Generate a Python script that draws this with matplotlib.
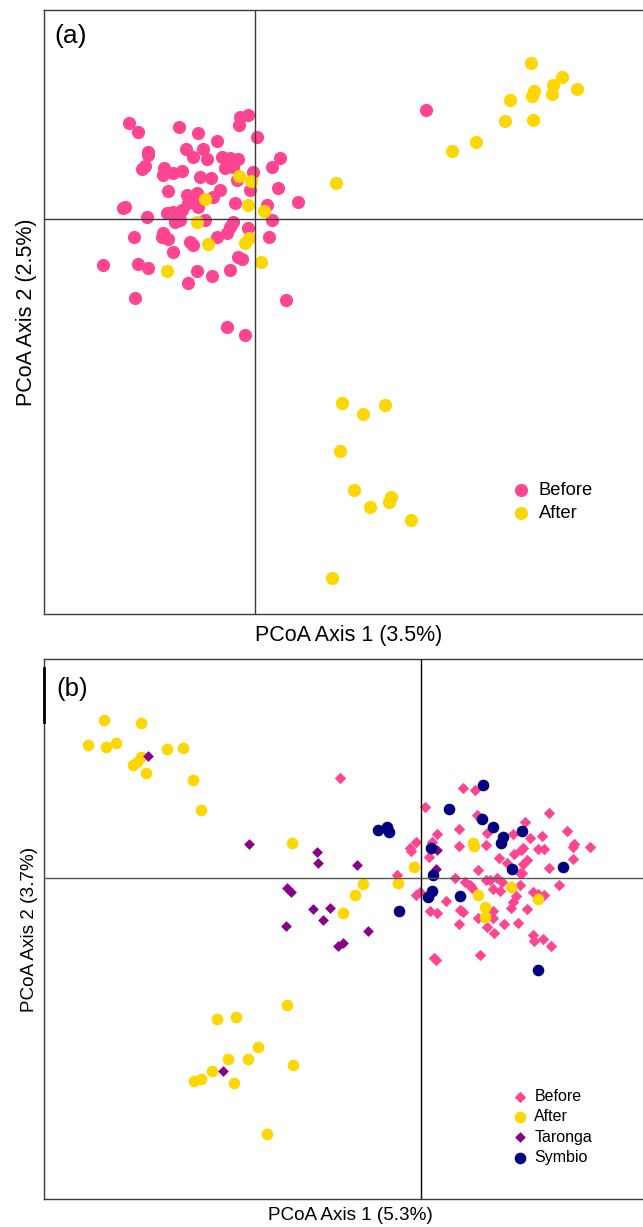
import matplotlib
matplotlib.use("Agg")
import matplotlib.pyplot as plt
import numpy as np

plt.rcParams['font.family'] = ['Liberation Sans', 'DejaVu Sans']

# ---------------- Panel (a) data (PCoA scores, arbitrary units) ----------------
a_before_x = [-126, -117, -76, -57, -38, -69, -52, -107, -107, -62, -48, -33, -25, -17,
              -113, -110, -91, -92, -82, -73, -30, -22, -2, 17, 25, -15, -7, -16, 2,
              -55, -44, -18, -5, 23, -87, -68, -58, -42, -35, 43, -132, -130, -88, -82,
              -73, -67, -62, -57, -20, 12, -108, -80, -75, -50, -22, -25, -28, -38, -7,
              17, -121, -92, -87, -93, -65, -62, -82, -152, -117, -107, -58, -43, -25,
              -17, -13, 14, -67, -120, 31, -28, -10, 171]
a_before_y = [96, 87, 92, 86, 78, 70, 70, 67, 64, 62, 60, 62, 61, 60,
              50, 53, 51, 44, 46, 48, 51, 52, 47, 52, 61, 102, 104, 94, 82,
              42, 41, 39, 29, 31, 28, 24, 26, 22, 29, 17, 11, 12, 6, 7,
              9, 16, 19, 12, 16, 14, 2, -3, -1, -1, -3, -8, -14, -18, -9,
              -1, -18, -14, -20, -18, -23, -26, -33, -46, -45, -49, -52, -57, -51,
              -38, -40, -18, -64, -79, -81, -108, -116, 109]

a_after_x = [-16, -4, -50, -7, 9, -58, -47, -10, -6, 6, -88,
             276, 307, 298, 279, 277, 297, 322, 255, 250, 278, 221, 197, 81,
             87, 108, 130, 85, 99, 115, 134, 136, 156, 77]
a_after_y = [43, 38, 20, 14, 8, -3, -25, -24, -19, -43, -52,
             156, 142, 134, 128, 123, 125, 130, 119, 98, 99, 77, 68, 36,
             -184, -195, -186, -232, -271, -288, -283, -278, -301, -359]

# ---------------- Panel (b) data ----------------
b_before_x = [-81, 42, 54, 4, 56, 59, 128, 104, 146, 16, 38, 66, 92, 121, 109, 169, 153,
              152, 117, 123, 102, 100, 65, 38, -5, -11, -10, 11, 8, 78, 93, 106, 102, 86,
              152, 128, 99, -24, 57, 34, 44, 49, 51, 65, 69, 76, 81, 99, 101, 72, 79,
              138, 112, 117, 123, -5, -1, 25, 95, 92, 90, 106, 9, 16, 39, 42, 57, 72,
              72, 38, 66, 73, 83, 97, 112, 122, 130, 113, 13, 15, 59]
b_before_y = [100, 90, 88, 71, 63, 60, 65, 56, 47, 44, 49, 45, 44, 42, 40, 31, 34,
              31, 29, 29, 30, 28, 33, 32, 36, 30, 27, 36, 21, 20, 24, 18, 14, 15,
              19, 10, 5, 3, 8, 0, -4, -7, -10, -2, -2, 0, -4, -7, 5, -11, -13,
              -7, -14, -16, -17, -17, -14, -23, -18, -24, -30, -31, -33, -35, -32, -34,
              -40, -33, -40, -46, -49, -55, -46, -45, -57, -61, -68, -63, -80, -82, -77]

b_after_x = [-317, -280, -333, -315, -305, -254, -238, -288, -284, -280, -275, -228, -220, -129,
             52, 53, -7, -58, -23, 90, 117, -66, -78, 57, 64, 64,
             -134, -204, -185, -163, -193, -173, -209, -128, -227, -220, -187, -154]
b_after_y = [158, 155, 133, 131, 135, 129, 130, 113, 116, 121, 105, 98, 68, 35,
             35, 32, 11, -6, -5, -9, -21, -17, -35, -17, -29, -39,
             -127, -141, -139, -169, -181, -181, -193, -187, -203, -201, -205, -256]

b_taronga_x = [-273, -172, -104, -103, -134, -130, -108, -91, -98, -135, -64, -53, -83, -78, 16, 15, -198]
b_taronga_y = [122, 34, 26, 15, -10, -14, -31, -30, -42, -48, 13, -53, -68, -65, 28, 9, -193]

b_symbio_x = [62, 28, 61, 72, 101, -43, -34, -32, 82, 80, 10, 91, 142, 12, 11, 7, 39, -22, 117]
b_symbio_y = [93, 69, 59, 51, 47, 48, 51, 46, 41, 35, 30, 9, 11, 3, -13, -19, -18, -33, -92]

PINK = '#FF4592'
GOLD = '#FFD700'
PURPLE = '#8B008B'
NAVY = '#000080'
LINEC = '#3a3a3a'

fig = plt.figure(figsize=(6.43, 12.27), dpi=100)

# ---------- panel (a) ----------
axa = fig.add_axes([44/643, 1-614/1227, 1-44/643, (614-10)/1227])
axa.scatter(a_before_x, a_before_y, s=90, c=PINK, marker='o', linewidths=0, label='Before', zorder=2)
axa.scatter(a_after_x, a_after_y, s=90, c=GOLD, marker='o', linewidths=0, label='After', zorder=2.5)
axa.axhline(0, color=LINEC, lw=1.0, zorder=3)
axa.axvline(0, color=LINEC, lw=1.0, zorder=3)
axa.set_xlim(44-255, 643-255)
axa.set_ylim(219-614, 219-10)
axa.set_xticks([]); axa.set_yticks([])
axa.spines['right'].set_visible(False)
for sp in ['left', 'top', 'bottom']:
    axa.spines[sp].set_color(LINEC)
    axa.spines[sp].set_linewidth(1.0)
axa.set_xlabel('PCoA Axis 1 (3.5%)', fontsize=15.5, labelpad=8)
axa.xaxis.label.set_x(0.508)
axa.set_ylabel('PCoA Axis 2 (2.5%)', fontsize=15.5, labelpad=5)
axa.text(0.017, 0.977, '(a)', transform=axa.transAxes, fontsize=19, va='top', ha='left')
axa.legend(loc='upper left', bbox_to_anchor=(468/599, (614-482)/604), frameon=False,
           fontsize=13.2, handlelength=1.0, handletextpad=0.45, labelspacing=0.3,
           borderpad=0, borderaxespad=0, scatterpoints=1)

# ---------- panel (b) ----------
axb = fig.add_axes([44/643, 1-1199/1227, 1-44/643, (1199-659)/1227])
axb.scatter(b_before_x, b_before_y, s=34, c=PINK, marker='D', linewidths=0, label='Before', zorder=2)
axb.scatter(b_after_x, b_after_y, s=70, c=GOLD, marker='o', linewidths=0, label='After', zorder=2.2)
axb.scatter(b_taronga_x, b_taronga_y, s=30, c=PURPLE, marker='D', linewidths=0, label='Taronga', zorder=2.4)
axb.scatter(b_symbio_x, b_symbio_y, s=70, c=NAVY, marker='o', linewidths=0, label='Symbio', zorder=2.6)
axb.axhline(0, color='#555555', lw=1.0, zorder=3)
axb.axvline(0, color='black', lw=1.0, zorder=3)
axb.set_xlim(44-421, 643-421)
axb.set_ylim(878-1199, 878-659)
axb.set_xticks([]); axb.set_yticks([])
axb.spines['right'].set_visible(False)
for sp in ['left', 'top', 'bottom']:
    axb.spines[sp].set_color(LINEC)
    axb.spines[sp].set_linewidth(1.0)
# thicker segment on the left frame near the panel letter
axb.axvline(-377, ymin=(1199-722)/540, ymax=(1199-668)/540, color='black', lw=2.0, zorder=4, clip_on=False)
axb.set_xlabel('PCoA Axis 1 (5.3%)', fontsize=13.6, labelpad=6)
axb.xaxis.label.set_x(0.511)
axb.set_ylabel('PCoA Axis 2 (3.7%)', fontsize=13.6, labelpad=4)
axb.text(0.02, 0.967, '(b)', transform=axb.transAxes, fontsize=18.5, va='top', ha='left')
axb.legend(loc='upper left', bbox_to_anchor=(468/599, (1199-1089)/540), frameon=False,
           fontsize=11.5, handlelength=1.0, handletextpad=0.4, labelspacing=0.33,
           borderpad=0, borderaxespad=0, scatterpoints=1)

fig.savefig('out.png', dpi=100)
